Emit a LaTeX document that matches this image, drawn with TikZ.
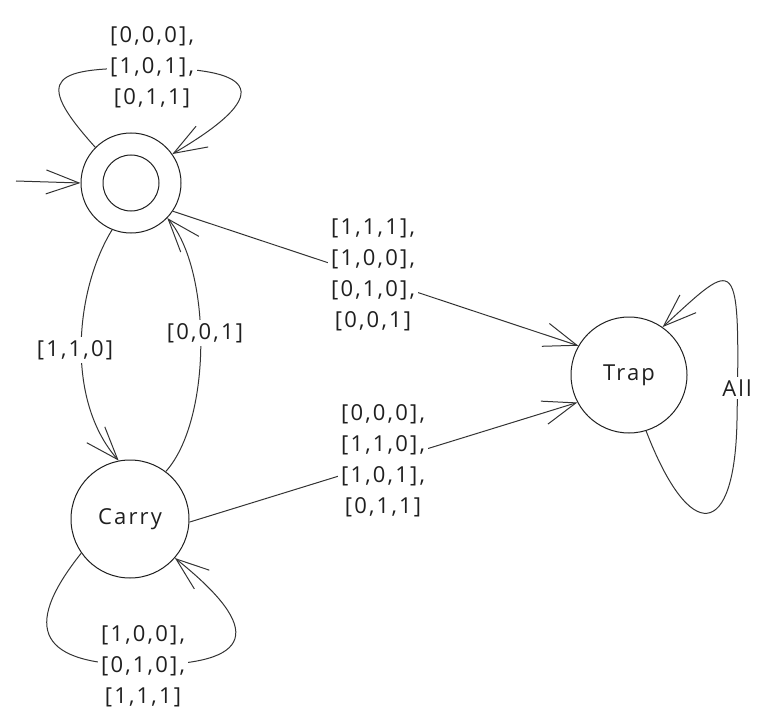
\documentclass[tikz,border=0pt]{standalone}
\usepackage{fontspec}
\setmainfont{Open Sans}[LetterSpace=10]
\usetikzlibrary{arrows.meta}
\begin{document}
\begin{tikzpicture}[x=1pt,y=-1pt,
  every node/.style={font=\fontsize{22}{31}\selectfont, text=black!88},
  state/.style={circle, draw=black!88, line width=1pt, inner sep=0pt},
  lbl/.style={fill=white, align=center, inner sep=3pt},
  edge/.style={draw=black!80, line width=1pt},
  arr/.style={edge, -{Straight Barb[length=33pt,width=24pt]}}]
\useasboundingbox (0,0) rectangle (762,727);
% states
\node[state, minimum size=100pt] (s) at (131,183) {};
\node[state, minimum size=56pt] (sin) at (131,183) {};
\node[state, minimum size=118pt] (c) at (130,519) {Carry};
\node[state, minimum size=116pt] (t) at (629,375) {Trap};
% initial arrow
\coordinate (init) at (16,181);
\draw[arr] (init) -- (s.west);
% self loop on start
\draw[arr] (s.135) .. controls (30,75) and (55,68) .. (150,68)
  .. controls (245,68) and (285,88) .. (s.35);
\node[lbl] (ls) at (152,67) {[0,0,0],\\{}[1,0,1],\\{}[0,1,1]};
% start -> trap
\draw[arr] (s.-34) -- (t.150);
\node[lbl] (lst) at (373,275) {[1,1,1],\\{}[1,0,0],\\{}[0,1,0],\\{}[0,0,1]};
% carry -> trap
\draw[arr] (c.-3) -- (t.208);
\node[lbl] (lct) at (383,461) {[0,0,0],\\{}[1,1,0],\\{}[1,0,1],\\{}[0,1,1]};
% start -> carry
\draw[arr] (s.248) .. controls (75,290) and (65,400) .. (c.101);
\node[lbl] (lsc) at (75,350) {[1,1,0]};
% carry -> start
\draw[arr] (c.53) .. controls (212,420) and (212,270) .. (s.-44);
\node[lbl] (lcs) at (205,333) {[0,0,1]};
% carry self loop
\draw[arr] (c.215) .. controls (20,630) and (40,665) .. (143,665)
  .. controls (255,665) and (265,630) .. (c.-41);
\node[lbl] (lc) at (143,666) {[1,0,0],\\{}[0,1,0],\\{}[1,1,1]};
% trap self loop
\draw[arr] (t.-73) .. controls (690,545) and (735,540) .. (737,420)
  .. controls (740,250) and (738,258) .. (t.55);
\node[lbl] (lt) at (737,388) {All};
\end{tikzpicture}
\end{document}
